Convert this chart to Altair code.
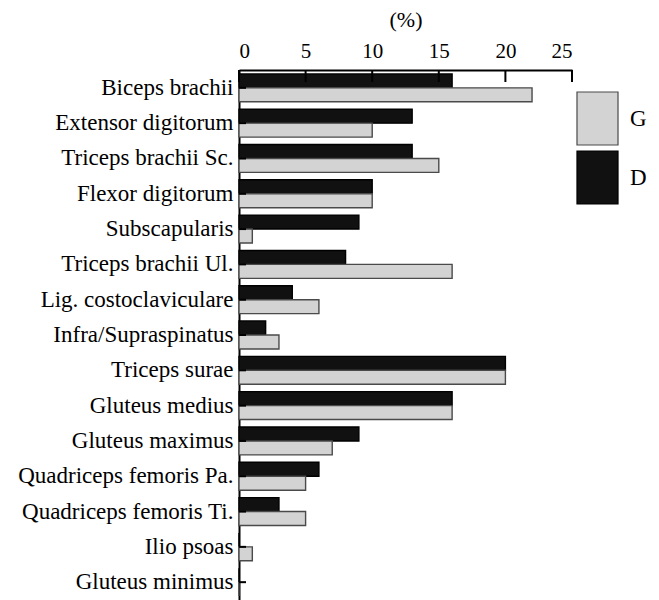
import altair as alt
import pandas as pd

# Muscle groups, top to bottom
muscles = [
    "Biceps brachii",
    "Extensor digitorum",
    "Triceps brachii Sc.",
    "Flexor digitorum",
    "Subscapularis",
    "Triceps brachii Ul.",
    "Lig. costoclaviculare",
    "Infra/Supraspinatus",
    "Triceps surae",
    "Gluteus medius",
    "Gluteus maximus",
    "Quadriceps femoris Pa.",
    "Quadriceps femoris Ti.",
    "Ilio psoas",
    "Gluteus minimus",
]
# Percentages per side
d_vals = [16, 13, 13, 10, 9, 8, 4, 2, 20, 16, 9, 6, 3, 0, 0]
g_vals = [22, 10, 15, 10, 1, 16, 6, 3, 20, 16, 7, 5, 5, 1, 0]
x_ticks = [0, 5, 10, 15, 20, 25]

FONT = "Liberation Serif"

rows = []
for m, d, g in zip(muscles, d_vals, g_vals):
    rows.append({"muscle": m, "series": "D", "value": d})
    rows.append({"muscle": m, "series": "G", "value": g})
df = pd.DataFrame(rows)
cats = pd.DataFrame({"muscle": muscles})
ticks = pd.DataFrame({"t": x_ticks})

x_scale = alt.Scale(domain=[0, 25], nice=False, zero=True)
y_scale = alt.Scale(paddingInner=0.21, paddingOuter=0.11)

rect_path = "M-0.774,-1H0.774V1H-0.774Z"

bars = alt.Chart(df).mark_bar(strokeWidth=1.4).encode(
    x=alt.X(
        "value:Q",
        scale=x_scale,
        axis=alt.Axis(
            orient="top",
            values=x_ticks,
            format="d",
            title="(%)",
            titlePadding=9,
            labelPadding=9,
            labelFontSize=21,
            titleFontSize=22,
        ),
    ),
    y=alt.Y(
        "muscle:N",
        sort=muscles,
        scale=y_scale,
        axis=alt.Axis(title=None, labelPadding=6, labelLimit=400, labelFontSize=23),
    ),
    yOffset=alt.YOffset("series:N", sort=["D", "G"]),
    color=alt.Color(
        "series:N",
        scale=alt.Scale(domain=["G", "D"], range=["#d3d3d3", "#111111"]),
        legend=alt.Legend(
            title=None,
            orient="none",
            legendX=331,
            legendY=21,
            symbolType=rect_path,
            symbolSize=2809,
            symbolStrokeColor="#666666",
            symbolStrokeWidth=1.2,
            symbolOpacity=1,
            labelOffset=5,
            rowPadding=0,
            padding=0,
        ),
    ),
    stroke=alt.Stroke(
        "series:N",
        scale=alt.Scale(domain=["G", "D"], range=["#4a4a4a", "#000000"]),
        legend=None,
    ),
)

# small inward ticks on the category axis
y_ticks = alt.Chart(cats).mark_rule(color="black", strokeWidth=2).encode(
    y=alt.Y("muscle:N", sort=muscles, bandPosition=0.5, axis=None),
    x=alt.value(0),
    x2=alt.value(7),
)

# inward ticks on the value axis
top_ticks = alt.Chart(ticks).mark_rule(color="black", strokeWidth=2).encode(
    x=alt.X("t:Q", scale=x_scale, axis=None),
    y=alt.value(0),
    y2=alt.value(12),
)

chart = (
    alt.layer(bars, y_ticks, top_ticks)
    .resolve_axis(x="independent", y="independent")
    .properties(
        width=333,
        height=530,
        autosize=alt.AutoSizeParams(type="none"),
        padding={"left": 239, "top": 70, "right": 87, "bottom": 0},
        background="white",
    )
    .configure(font=FONT)
    .configure_axis(
        labelFont=FONT,
        labelColor="black",
        titleFont=FONT,
        titleFontWeight="normal",
        titleColor="black",
        tickSize=0,
        grid=False,
        domainColor="black",
        domainWidth=2,
    )
    .configure_legend(labelFont=FONT, labelFontSize=23, labelColor="black")
    .configure_view(stroke=None)
)

chart.save("out.html", embed_options={"renderer": "svg", "actions": False})
